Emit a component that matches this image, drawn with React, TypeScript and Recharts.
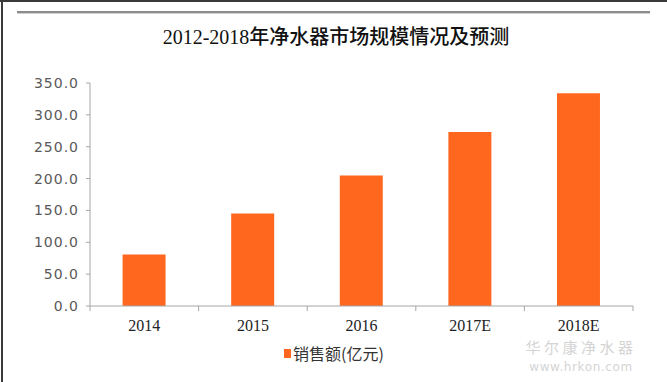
import React from "react";
import { BarChart, Bar, XAxis, YAxis, Legend } from "recharts";

const years = ["2014", "2015", "2016", "2017E", "2018E"];
const sales = [81, 145, 205, 273, 334];
const yTicks = [0, 50, 100, 150, 200, 250, 300, 350];

const TITLE = "2012-2018年净水器市场规模情况及预测";
const SERIES_NAME = "销售额(亿元)";
const BAR_COLOR = "#ff671f";
const AXIS_COLOR = "#a6a6a6";

const data = years.map((y, i) => ({ year: y, sales: sales[i] }));

const LegendContent = () => (
  <div
    style={{
      height: 26,
      display: "flex",
      alignItems: "center",
      paddingLeft: 284,
      fontFamily: "'Noto Sans CJK SC', sans-serif",
      fontSize: 16,
      color: "#333",
    }}
  >
    <span style={{ display: "inline-block", width: 7, height: 9, background: BAR_COLOR, marginRight: 2 }} />
    <span>{SERIES_NAME}</span>
  </div>
);

const CatTick = (props: any) => {
  const { x, y, payload, index, visibleTicksCount } = props;
  const half = payload && payload.offset ? payload.offset : 0;
  const axisY = y - 14;
  const isLast = index === (visibleTicksCount ?? years.length) - 1;
  return (
    <g>
      <line x1={x - half} x2={x - half} y1={axisY} y2={axisY + 5} stroke={AXIS_COLOR} />
      {isLast && <line x1={x + half} x2={x + half} y1={axisY} y2={axisY + 5} stroke={AXIS_COLOR} />}
      <text
        x={x}
        y={y}
        dy="0.71em"
        textAnchor="middle"
        fill="#222"
        fontSize={16}
        fontFamily="'Liberation Serif', serif"
      >
        {payload.value}
      </text>
    </g>
  );
};

export default function App() {
  return (
    <div style={{ position: "relative", width: 667, height: 382, background: "#fff", overflow: "hidden" }}>
      <style>{"body{margin:0;}"}</style>
      <div style={{ position: "absolute", left: 0, top: 0, width: 667, height: 2, background: "#3a3a3a" }} />
      <div style={{ position: "absolute", left: 1, top: 0, width: 2, height: 382, background: "#3a3a3a" }} />
      <div style={{ position: "absolute", left: 17, top: 11, width: 633, height: 2, background: "#8c8c8c" }} />
      <div style={{ position: "absolute", left: 17, top: 13, width: 633, height: 1, background: "#d0d0d0" }} />
      <div
        style={{
          position: "absolute",
          left: 0,
          top: 24,
          width: 672,
          textAlign: "center",
          fontFamily: "'Liberation Serif', 'Noto Sans CJK SC', serif",
          fontSize: 20,
          fontWeight: 500,
          color: "#111",
          lineHeight: "26px",
        }}
      >
        {TITLE}
      </div>
      <div
        style={{
          position: "absolute",
          left: 522,
          top: 339,
          width: 118,
          textAlign: "center",
          fontFamily: "'Noto Sans CJK SC', sans-serif",
          fontSize: 15,
          color: "#d4d4d4",
          lineHeight: "16px",
          letterSpacing: 3.5,
        }}
      >
        华尔康净水器
      </div>
      <div
        style={{
          position: "absolute",
          left: 518,
          top: 361,
          width: 126,
          textAlign: "center",
          fontFamily: "'DejaVu Sans', sans-serif",
          fontSize: 12,
          color: "#d4d4d4",
          lineHeight: "12px",
          letterSpacing: 0.6,
        }}
      >
        www.hrkon.com
      </div>
      <div style={{ position: "absolute", left: 0, top: 0 }}>
        <BarChart
          width={667}
          height={382}
          data={data}
          margin={{ top: 83, right: 34, left: 30, bottom: 16 }}
          barCategoryGap="30%"
        >
          <XAxis
            dataKey="year"
            tickLine={false}
            tickSize={0}
            tickMargin={14}
            axisLine={{ stroke: AXIS_COLOR }}
            height={34}
            interval={0}
            tick={<CatTick />}
          />
          <YAxis
            domain={[0, 350]}
            ticks={yTicks}
            width={60}
            tickSize={4}
            tickMargin={7}
            axisLine={{ stroke: AXIS_COLOR }}
            tickLine={{ stroke: AXIS_COLOR }}
            tickFormatter={(v: number) => v.toFixed(1)}
            tick={{ fill: "#595959", fontSize: 14, fontFamily: "'DejaVu Sans', sans-serif", letterSpacing: 1 }}
            interval={0}
          />
          <Legend
            verticalAlign="bottom"
            content={<LegendContent />}
            wrapperStyle={{ left: 0, width: 667 }}
          />
          <Bar dataKey="sales" name={SERIES_NAME} fill={BAR_COLOR} isAnimationActive={false} />
        </BarChart>
      </div>
    </div>
  );
}
